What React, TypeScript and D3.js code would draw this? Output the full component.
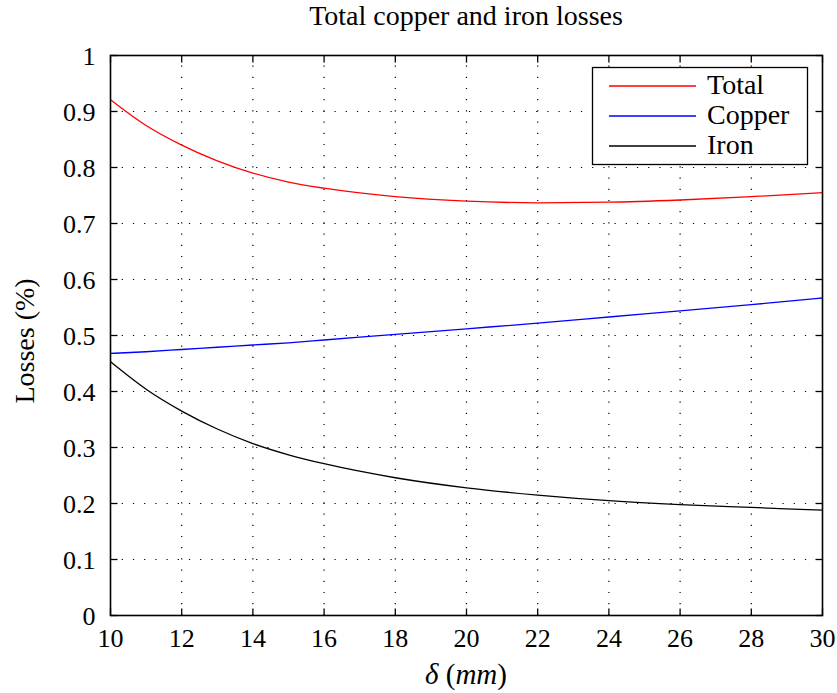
import React, { useEffect, useRef } from 'react';
import * as d3 from 'd3';

const deltas = [10, 11, 12, 13, 14, 15, 16, 18, 20, 22, 24, 26, 28, 30];
const totalLoss = [0.921, 0.875, 0.840, 0.812, 0.790, 0.774, 0.763, 0.748, 0.740, 0.737, 0.738, 0.742, 0.748, 0.755];
const copperLoss = [0.468, 0.471, 0.475, 0.479, 0.483, 0.487, 0.492, 0.502, 0.512, 0.522, 0.533, 0.544, 0.555, 0.567];
const ironLoss = [0.453, 0.404, 0.365, 0.333, 0.307, 0.287, 0.271, 0.246, 0.228, 0.215, 0.205, 0.198, 0.193, 0.188];

const xTicks = [10, 12, 14, 16, 18, 20, 22, 24, 26, 28, 30];
const yTicks = [0, 0.1, 0.2, 0.3, 0.4, 0.5, 0.6, 0.7, 0.8, 0.9, 1];

const seriesNames = ['Total', 'Copper', 'Iron'];
const seriesColors = ['#ff0000', '#0000ff', '#000000'];

const App: React.FC = () => {
  const svgRef = useRef<SVGSVGElement | null>(null);

  useEffect(() => {
    const svg = d3.select(svgRef.current);
    svg.selectAll('*').remove();

    const W = 837, H = 693;
    const left = 110.5, right = 822.5, top = 55.5, bottom = 615.5;
    const font = 'Liberation Serif';

    const x = d3.scaleLinear().domain([10, 30]).range([left, right]);
    const y = d3.scaleLinear().domain([0, 1]).range([bottom, top]);

    svg.attr('width', W).attr('height', H);
    svg.append('rect').attr('width', W).attr('height', H).attr('fill', '#fff');

    // dotted grid
    const grid = svg.append('g').attr('stroke', '#000').attr('stroke-width', 1.2).attr('stroke-dasharray', '1.2,10');
    xTicks.slice(1, -1).forEach((t) => {
      grid.append('line').attr('x1', x(t)).attr('x2', x(t)).attr('y1', bottom).attr('y2', top);
    });
    yTicks.slice(1, -1).forEach((t) => {
      grid.append('line').attr('x1', left).attr('x2', right).attr('y1', y(t)).attr('y2', y(t));
    });

    // curves
    const all = [totalLoss, copperLoss, ironLoss];
    const line = d3.line<number>()
      .x((_, i) => x(deltas[i]))
      .y((d) => y(d))
      .curve(d3.curveMonotoneX);
    all.forEach((vals, k) => {
      svg.append('path').datum(vals).attr('d', line).attr('fill', 'none')
        .attr('stroke', seriesColors[k]).attr('stroke-width', 1.3);
    });

    // frame and inward ticks
    svg.append('rect').attr('x', left).attr('y', top).attr('width', right - left).attr('height', bottom - top)
      .attr('fill', 'none').attr('stroke', '#000').attr('stroke-width', 1.6);
    const tk = svg.append('g').attr('stroke', '#000').attr('stroke-width', 1.3);
    const tl = 7;
    xTicks.forEach((t) => {
      tk.append('line').attr('x1', x(t)).attr('x2', x(t)).attr('y1', bottom).attr('y2', bottom - tl);
      tk.append('line').attr('x1', x(t)).attr('x2', x(t)).attr('y1', top).attr('y2', top + tl);
    });
    yTicks.forEach((t) => {
      tk.append('line').attr('x1', left).attr('x2', left + tl).attr('y1', y(t)).attr('y2', y(t));
      tk.append('line').attr('x1', right).attr('x2', right - tl).attr('y1', y(t)).attr('y2', y(t));
    });

    // tick labels
    svg.append('g').selectAll('text').data(xTicks).enter().append('text')
      .attr('x', (d) => x(d)).attr('y', 647).attr('text-anchor', 'middle')
      .attr('font-family', font).attr('font-size', 26).text((d) => String(d));
    svg.append('g').selectAll('text').data(yTicks).enter().append('text')
      .attr('x', left - 15).attr('y', (d) => y(d) + 9).attr('text-anchor', 'end')
      .attr('font-family', font).attr('font-size', 26).text((d) => String(d));

    // title and axis labels
    svg.append('text').attr('x', 466).attr('y', 25).attr('text-anchor', 'middle')
      .attr('font-family', font).attr('font-size', 28).text('Total copper and iron losses');
    const xl = svg.append('text').attr('x', 466).attr('y', 684).attr('text-anchor', 'middle')
      .attr('font-family', font).attr('font-size', 29);
    xl.append('tspan').attr('font-style', 'italic').text('δ');
    xl.append('tspan').text(' (');
    xl.append('tspan').attr('font-style', 'italic').text('mm');
    xl.append('tspan').text(')');
    svg.append('text').attr('transform', 'translate(34,341) rotate(-90)')
      .attr('text-anchor', 'middle').attr('font-family', font).attr('font-size', 28).text('Losses (%)');

    // legend
    const lg = svg.append('g');
    lg.append('rect').attr('x', 592.5).attr('y', 67.5).attr('width', 215).attr('height', 97)
      .attr('fill', '#fff').attr('stroke', '#000').attr('stroke-width', 1.3);
    seriesNames.forEach((name, i) => {
      const cy = 86 + i * 30;
      lg.append('line').attr('x1', 609).attr('x2', 696).attr('y1', cy).attr('y2', cy)
        .attr('stroke', seriesColors[i]).attr('stroke-width', 1.3);
      lg.append('text').attr('x', 707).attr('y', cy + 8).attr('font-family', font).attr('font-size', 28).text(name);
    });
  }, []);

  return <svg ref={svgRef} style={{ position: 'absolute', left: 0, top: 0 }}></svg>;
};

export default App;
